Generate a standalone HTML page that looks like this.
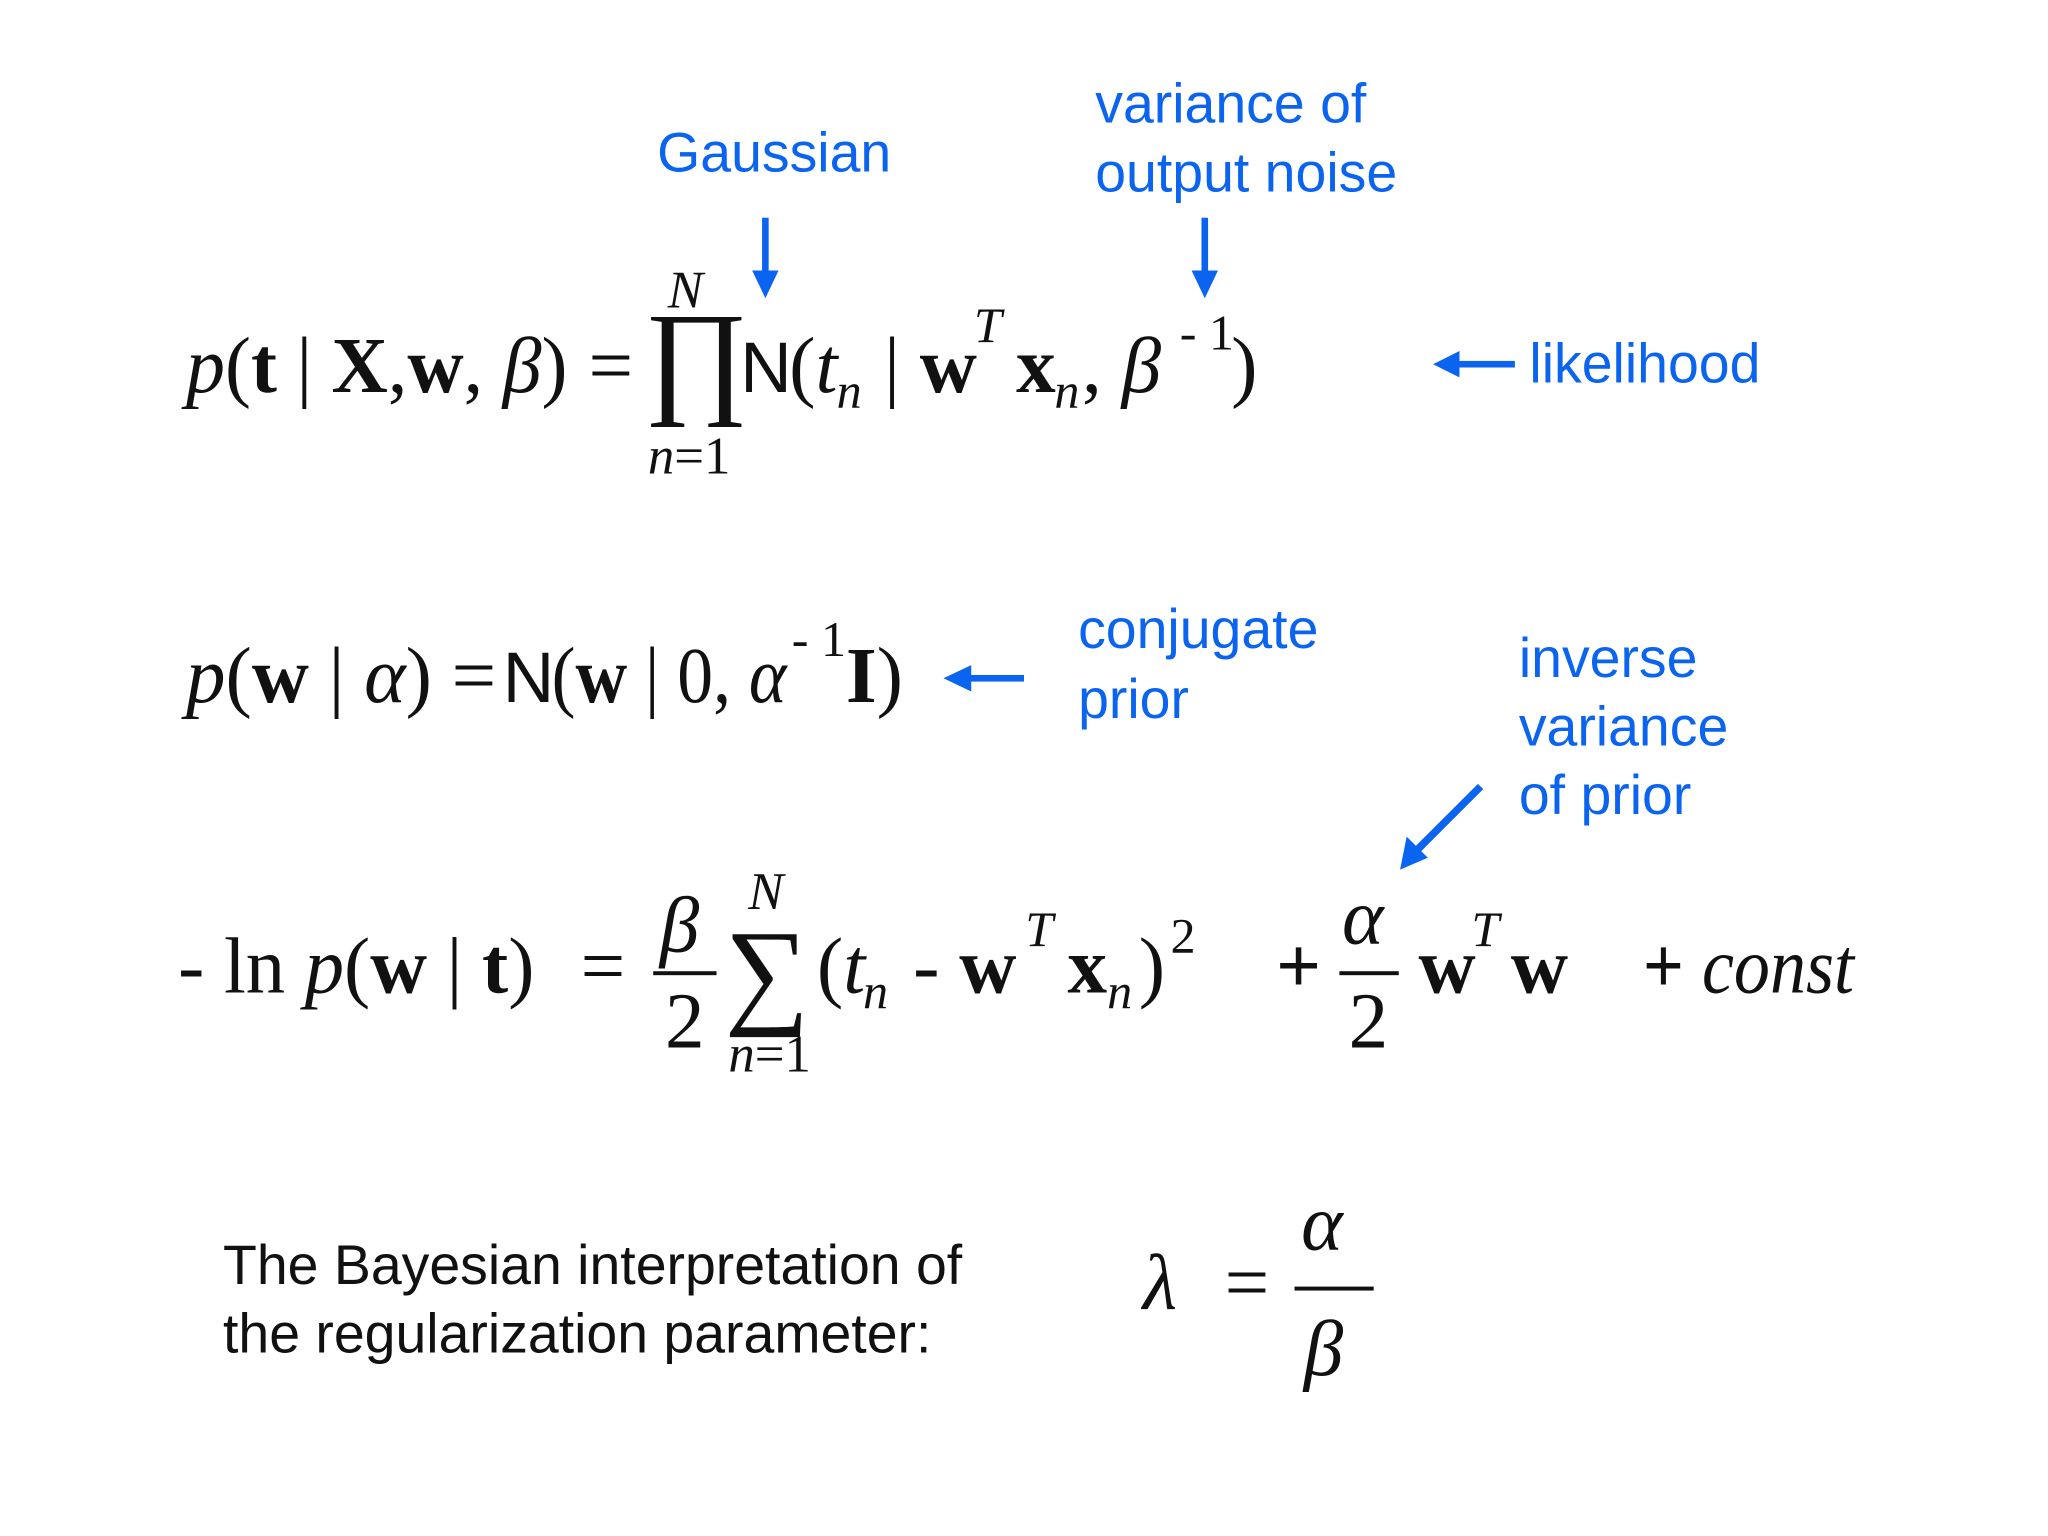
<!DOCTYPE html>
<html><head><meta charset="utf-8"><style>
html,body{margin:0;padding:0;background:#fff;width:2048px;height:1536px;overflow:hidden}
svg{display:block}
.s{font-family:"Liberation Sans",sans-serif;fill:#0a64f0;font-size:42px}
.k{font-family:"Liberation Sans",sans-serif;fill:#111;font-size:42px}
.m{font-family:"Liberation Serif",serif;fill:#111;font-size:60px}
.i{font-style:italic}.b{font-weight:bold}
</style></head><body>
<svg width="2048" height="1536" viewBox="0 0 1552 1164" xmlns="http://www.w3.org/2000/svg">
<g transform="translate(-7,-3)">
<g fill="#0a64f0" stroke="none">
<rect x="584.5" y="168" width="5" height="42"/><path d="M577,208 L597,208 L587,229 z"/>
<rect x="917.5" y="168" width="5" height="42"/><path d="M910,208 L930,208 L920,229 z"/>
<rect x="1112" y="276.5" width="43" height="5"/><path d="M1113,269 L1113,289 L1093,279 z"/>
<rect x="742" y="514.5" width="41" height="5"/><path d="M743,507 L743,527 L722,517 z"/>
<path d="M1127,597 L1131,601 L1083,649 L1079,645 z"/><path d="M1073,637 L1089,653 L1068,662 z"/>
</g>
<text class="s" x="505" y="133">Gaussian</text>
<text class="s" x="837" y="96">variance of</text>
<text class="s" x="837" y="148">output noise</text>
<text class="s" x="1166" y="293">likelihood</text>
<text class="s" x="824" y="494">conjugate</text>
<text class="s" x="824" y="547">prior</text>
<text class="s" x="1158" y="516">inverse</text>
<text class="s" x="1158" y="568">variance</text>
<text class="s" x="1158" y="620">of prior</text>

<g class="m" transform="translate(5,0)">
<text x="143" y="300" textLength="289" lengthAdjust="spacingAndGlyphs"><tspan class="i">p</tspan>(<tspan class="b">t</tspan> | <tspan class="b">X</tspan>,<tspan class="b">w</tspan>, <tspan class="i">β</tspan>)</text>
<text x="448" y="300">=</text>
<text x="490" y="306" font-size="96">∏</text>
<text x="508" y="236" font-size="40" class="i">N</text>
<text x="493" y="362" font-size="40"><tspan class="i">n</tspan>=1</text>
<text x="563" y="300" font-family="Liberation Sans" font-size="54">N</text>
<text x="600" y="300">(<tspan class="i">t</tspan></text>
<text x="636" y="312" font-size="38" class="i">n</text>
<text x="672" y="300">| <tspan class="b">w</tspan></text>
<text x="740" y="262" font-size="38" class="i">T</text>
<text x="772" y="300" class="b">x</text>
<text x="801" y="312" font-size="38" class="i">n</text>
<text x="822" y="300">, <tspan class="i">β</tspan></text>
<text x="896" y="268" font-size="38">- 1</text>
<text x="935" y="300">)</text>
</g>

<g class="m" transform="translate(5,0)">
<text x="143" y="535" textLength="235" lengthAdjust="spacingAndGlyphs"><tspan class="i">p</tspan>(<tspan class="b">w</tspan> | <tspan class="i">α</tspan>) =</text>
<text x="383" y="535" font-family="Liberation Sans" font-size="54">N</text>
<text x="420" y="535" textLength="178" lengthAdjust="spacingAndGlyphs">(<tspan class="b">w</tspan> | 0, <tspan class="i">α</tspan></text>
<text x="602" y="500" font-size="38">- 1</text>
<text x="643" y="535"><tspan class="b">I</tspan>)</text>
</g>

<g class="m" transform="translate(4,0)">
<text x="138" y="755" textLength="270" lengthAdjust="spacingAndGlyphs">- ln <tspan class="i">p</tspan>(<tspan class="b">w</tspan> | <tspan class="b">t</tspan>)</text>
<text x="443" y="755">=</text>
<text x="503" y="724" class="i">β</text>
<rect x="498" y="739" width="48" height="3" fill="#111"/>
<text x="507" y="797">2</text>
<text x="552" y="770" font-size="90">∑</text>
<text x="570" y="692" font-size="40" class="i">N</text>
<text x="555" y="815" font-size="40"><tspan class="i">n</tspan>=1</text>
<text x="622" y="755">(<tspan class="i">t</tspan></text>
<text x="657" y="767" font-size="38" class="i">n</text>
<text x="695" y="755">- <tspan class="b">w</tspan></text>
<text x="780" y="720" font-size="38" class="i">T</text>
<text x="812" y="755" class="b">x</text>
<text x="842" y="767" font-size="38" class="i">n</text>
<text x="866" y="755">)</text>
<text x="890" y="725" font-size="38">2</text>
<text x="970" y="755" class="b">+</text>
<text x="1020" y="718" class="i">α</text>
<rect x="1018" y="739" width="45" height="3" fill="#111"/>
<text x="1025" y="797">2</text>
<text x="1078" y="755" class="b">w</text>
<text x="1118" y="720" font-size="38" class="i">T</text>
<text x="1148" y="755" class="b">w</text>
<text x="1248" y="755" textLength="160" lengthAdjust="spacingAndGlyphs"><tspan class="b">+</tspan> <tspan class="i">const</tspan></text>
</g>

<text class="k" x="176" y="976">The Bayesian interpretation of</text>
<text class="k" x="176" y="1028">the regularization parameter:</text>
<g class="m">
<text x="873" y="995" class="i">λ</text>
<text x="935" y="995">=</text>
<text x="993" y="950" class="i">α</text>
<rect x="988" y="978" width="60" height="3" fill="#111"/>
<text x="995" y="1045" class="i">β</text>
</g>
</g>
</svg>
</body></html>
